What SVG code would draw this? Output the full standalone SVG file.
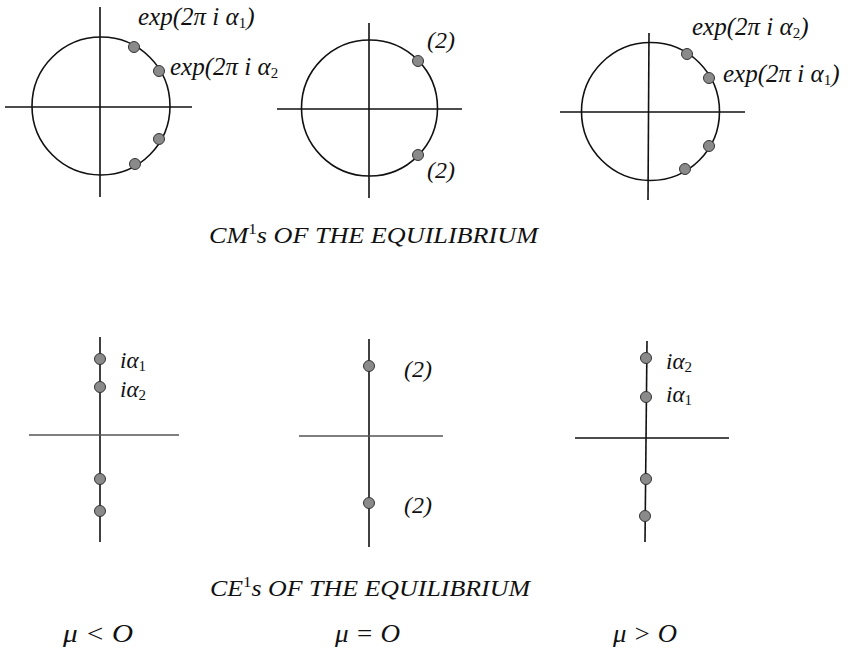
<svg xmlns="http://www.w3.org/2000/svg" width="851" height="651" viewBox="0 0 851 651">
<style>
.ax{stroke:#111;stroke-width:1.6;fill:none}
.axg{stroke:#555;stroke-width:1.6;fill:none}
.circ{stroke:#111;stroke-width:1.6;fill:none}
.dot{fill:#8a8a8a;stroke:#333;stroke-width:1}
.t{font-family:"Liberation Serif","Times New Roman",serif;font-style:italic;font-size:23px;fill:#111}
.e{font-size:25px}
.p{font-size:24px}
.m{font-size:25px}
.sub{font-size:15px;font-style:normal}
</style>
<rect width="851" height="651" fill="#fff"/>
<g id="connectors">
<line class="ax" x1="100" y1="7" x2="100" y2="197"/>
<line class="ax" x1="5" y1="107" x2="192" y2="107"/>
<line class="ax" x1="369" y1="23" x2="369" y2="198"/>
<line class="ax" x1="277" y1="109" x2="462" y2="109"/>
<line class="ax" x1="649" y1="33" x2="648" y2="200"/>
<line class="ax" x1="560" y1="112" x2="745" y2="112"/>
<line class="ax" x1="100" y1="337" x2="100" y2="542"/>
<line class="axg" x1="29" y1="435" x2="179" y2="435"/>
<line class="ax" x1="369" y1="339" x2="369" y2="547"/>
<line class="axg" x1="299" y1="436" x2="443" y2="436"/>
<line class="ax" x1="647" y1="341" x2="645" y2="542"/>
<line class="ax" x1="575" y1="438" x2="729" y2="438"/>
</g>
<g id="circle1">
<circle class="circ" cx="101" cy="106" r="69"/>
<circle class="dot" cx="134" cy="47" r="5.5"/>
<circle class="dot" cx="159" cy="71" r="5.5"/>
<circle class="dot" cx="159" cy="139" r="5.5"/>
<circle class="dot" cx="135" cy="164" r="5.5"/>
<text class="t e" x="138" y="25">exp(2π i α<tspan class="sub" dy="3">1</tspan><tspan dy="-3">)</tspan></text>
<text class="t e" x="170" y="75">exp(2π i α<tspan class="sub" dy="3">2</tspan></text>
</g>
<g id="circle2">
<circle class="circ" cx="369.5" cy="108" r="68"/>
<circle class="dot" cx="418" cy="61" r="5.5"/>
<circle class="dot" cx="418" cy="155" r="5.5"/>
<text class="t p" x="427" y="48">(2)</text>
<text class="t p" x="427" y="178">(2)</text>
</g>
<g id="circle3">
<circle class="circ" cx="650.5" cy="111.5" r="69"/>
<circle class="dot" cx="687" cy="54" r="5.5"/>
<circle class="dot" cx="709" cy="78" r="5.5"/>
<circle class="dot" cx="709" cy="146" r="5.5"/>
<circle class="dot" cx="685" cy="169" r="5.5"/>
<text class="t e" x="692" y="35">exp(2π i α<tspan class="sub" dy="3">2</tspan><tspan dy="-3">)</tspan></text>
<text class="t e" x="723" y="82">exp(2π i α<tspan class="sub" dy="3">1</tspan><tspan dy="-3">)</tspan></text>
</g>
<g id="title-cm">
<text class="t" x="209" y="243" textLength="329" lengthAdjust="spacingAndGlyphs">CM<tspan class="sub" dy="-9">1</tspan><tspan dy="9">s OF THE EQUILIBRIUM</tspan></text>
</g>
<g id="axis1">
<circle class="dot" cx="100" cy="359" r="5.5"/>
<circle class="dot" cx="100" cy="387" r="5.5"/>
<circle class="dot" cx="100" cy="479" r="5.5"/>
<circle class="dot" cx="100" cy="511" r="5.5"/>
<text class="t" x="120" y="368">iα<tspan class="sub" dy="3">1</tspan></text>
<text class="t" x="120" y="397">iα<tspan class="sub" dy="3">2</tspan></text>
</g>
<g id="axis2">
<circle class="dot" cx="369" cy="366" r="5.5"/>
<circle class="dot" cx="369" cy="503" r="5.5"/>
<text class="t p" x="404" y="377">(2)</text>
<text class="t p" x="404" y="513">(2)</text>
</g>
<g id="axis3">
<circle class="dot" cx="646" cy="358" r="5.5"/>
<circle class="dot" cx="646" cy="397" r="5.5"/>
<circle class="dot" cx="646" cy="479" r="5.5"/>
<circle class="dot" cx="645" cy="516" r="5.5"/>
<text class="t" x="666" y="369">iα<tspan class="sub" dy="3">2</tspan></text>
<text class="t" x="666" y="402">iα<tspan class="sub" dy="3">1</tspan></text>
</g>
<g id="title-ce">
<text class="t" x="210" y="596" textLength="320" lengthAdjust="spacingAndGlyphs">CE<tspan class="sub" dy="-9">1</tspan><tspan dy="9">s OF THE EQUILIBRIUM</tspan></text>
</g>
<g id="mu-labels">
<text class="t m" x="63" y="642" textLength="70" lengthAdjust="spacingAndGlyphs">μ &lt; O</text>
<text class="t m" x="335" y="642" textLength="65" lengthAdjust="spacingAndGlyphs">μ = O</text>
<text class="t m" x="613" y="642" textLength="64" lengthAdjust="spacingAndGlyphs">μ &gt; O</text>
</g>
</svg>
